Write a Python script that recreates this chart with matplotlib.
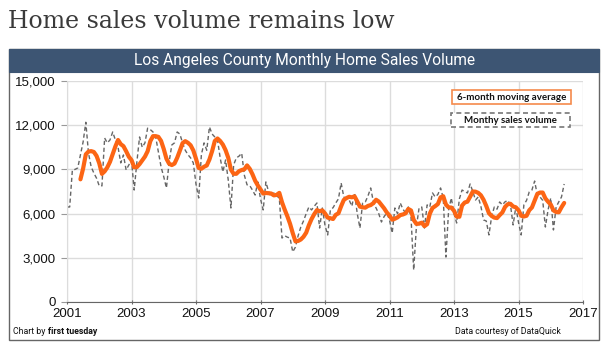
import matplotlib
matplotlib.use("Agg")
import matplotlib.pyplot as plt
import matplotlib.patches as mpatches
import numpy as np
import pandas as pd

# ---- data (monthly LA County home sales) ----
sales_2001 = [6450, 6450, 8960, 9000, 9100, 10000, 10870, 12200, 10100, 9170, 8750, 8400]
sales_2002 = [7880, 7880, 11130, 10800, 11000, 11540, 11000, 10500, 9440, 9980, 8960, 9300]
sales_2003 = [9600, 7600, 9500, 11200, 10500, 10800, 11800, 11700, 11540, 11200, 10200, 9170]
sales_2004 = [8500, 7740, 9500, 10660, 10800, 11540, 11400, 10800, 10300, 10000, 9780, 9440]
sales_2005 = [8000, 7060, 10000, 10800, 10300, 11880, 11400, 11200, 11000, 9780, 8830, 9640]
sales_2006 = [8280, 6380, 9300, 9780, 9900, 10100, 8600, 7950, 7900, 7600, 7260, 8150]
sales_2007 = [7000, 6250, 8150, 7500, 7130, 7400, 7200, 7060, 4340, 4500, 4400, 4340]
sales_2008 = [3400, 3730, 4500, 5090, 5500, 6000, 6450, 6250, 6500, 6720, 5020, 6380]
sales_2009 = [5200, 4550, 6250, 6400, 6720, 7000, 8080, 7130, 7000, 6920, 6500, 7400]
sales_2010 = [6000, 5020, 6720, 6790, 7200, 7740, 6800, 6380, 6000, 5430, 5800, 6040]
sales_2011 = [5570, 4680, 6380, 6000, 6720, 6300, 6040, 6450, 5770, 2170, 5090, 6380]
sales_2012 = [6450, 5020, 6590, 6450, 7400, 7130, 7300, 7740, 7060, 3050, 6250, 7060]
sales_2013 = [6000, 5360, 7000, 7600, 7500, 7400, 8010, 7500, 6920, 7130, 6500, 5570]
sales_2014 = [5500, 4550, 5800, 6450, 6300, 6790, 6590, 6800, 6900, 6600, 5230, 6450]
sales_2015 = [5400, 4550, 6590, 6900, 7470, 7600, 8210, 7260, 7130, 6900, 5090, 6250]
sales_2016 = [7060, 4890, 6450, 6800, 7130, 8010]

start_year = 2001
x_ticks = [2001, 2003, 2005, 2007, 2009, 2011, 2013, 2015, 2017]
y_ticks = [0, 3000, 6000, 9000, 12000, 15000]

monthly = (sales_2001 + sales_2002 + sales_2003 + sales_2004 + sales_2005 + sales_2006 +
           sales_2007 + sales_2008 + sales_2009 + sales_2010 + sales_2011 + sales_2012 +
           sales_2013 + sales_2014 + sales_2015 + sales_2016)
s = pd.Series(monthly, dtype=float)
t = start_year + np.arange(len(s)) / 12.0
ma = s.rolling(6).mean()

W, H = 602, 351
fig = plt.figure(figsize=(W / 100, H / 100), dpi=100)
fig.patch.set_facecolor("white")

def fx(px):
    return px / W

def fy(py):
    return 1 - py / H

# Title
fig.text(fx(8), fy(28), "Home sales volume remains low", family="DejaVu Serif",
         fontsize=17, color="#3a3a3a", ha="left", va="baseline")

# Frame
frame = mpatches.Rectangle((fx(9), fy(340)), fx(599) - fx(9), fy(49) - fy(340),
                           transform=fig.transFigure, fill=False, edgecolor="#666666", lw=1.0)
fig.patches.append(frame)
bar = mpatches.Rectangle((fx(9), fy(72)), fx(599) - fx(9), fy(49) - fy(72),
                         transform=fig.transFigure, facecolor="#3d5573", edgecolor="#3d5573", lw=0.8)
fig.patches.append(bar)
fig.text(fx(305), fy(60.5), "Los Angeles County Monthly Home Sales Volume", family="Roboto",
         fontsize=11.2, color="white", ha="center", va="center")

# Axes
L, R, T, B = 67, 583, 81, 302
ax = fig.add_axes([fx(L), fy(B), fx(R) - fx(L), fy(T) - fy(B)])
ax.set_xlim(2001, 2017)
ax.set_ylim(0, 15000)
ax.set_xticks(x_ticks)
ax.set_xticklabels([str(v) for v in x_ticks])
ax.set_yticks(y_ticks)
ax.set_yticklabels([f"{v:,}" for v in y_ticks])
ax.grid(True, color="#dcdcdc", lw=1.0)
ax.set_axisbelow(True)
for sp in ["top", "right"]:
    ax.spines[sp].set_visible(False)
ax.spines["left"].set_color("#dcdcdc")
ax.spines["bottom"].set_color("#666666")
ax.tick_params(axis="y", length=4, color="#999999", labelsize=9.5, pad=4, labelcolor="#111111")
ax.tick_params(axis="x", length=3, direction="inout", color="#666666", labelsize=9.5, pad=3,
               labelcolor="#111111")
for lab in ax.get_xticklabels() + ax.get_yticklabels():
    lab.set_family("Liberation Sans")

ax.plot(t, s.values, color="#666666", lw=1.0, dashes=(3, 2), zorder=2)
ax.plot(t, ma.values, color="#fc6514", lw=3.0, solid_capstyle="round", zorder=3)

# Legend boxes
leg1 = mpatches.Rectangle((fx(452), fy(104)), fx(571) - fx(452), fy(90) - fy(104),
                          transform=fig.transFigure, facecolor="white", edgecolor="#f58a4b", lw=1.2,
                          zorder=5)
fig.patches.append(leg1)
fig.text(fx(511.5), fy(97.5), "6-month moving average", family="Lato", fontweight="bold",
         fontsize=7.0, color="#111111", ha="center", va="center", zorder=6)
leg2 = mpatches.Rectangle((fx(451), fy(127)), fx(570) - fx(451), fy(113) - fy(127),
                          transform=fig.transFigure, facecolor="white", edgecolor="#777777", lw=1.2,
                          linestyle=(0, (3, 2)), zorder=5)
fig.patches.append(leg2)
fig.text(fx(510.5), fy(120.5), "Monthy sales volume", family="Lato", fontweight="bold",
         fontsize=7.0, color="#111111", ha="center", va="center", zorder=6)

# Footer
t1 = fig.text(fx(13), fy(334), "Chart by ", family="Roboto", fontsize=6.3,
              color="#111111", ha="left", va="baseline")
fig.canvas.draw()
bb = t1.get_window_extent()
fig.text(bb.x1 / W, fy(334), "first tuesday", family="Roboto", fontweight="bold",
         fontsize=6.3, color="#111111", ha="left", va="baseline")
fig.text(fx(561), fy(334), "Data courtesy of DataQuick", family="Roboto",
         fontsize=6.3, color="#111111", ha="right", va="baseline")

fig.savefig("out.png", dpi=100, facecolor="white")
